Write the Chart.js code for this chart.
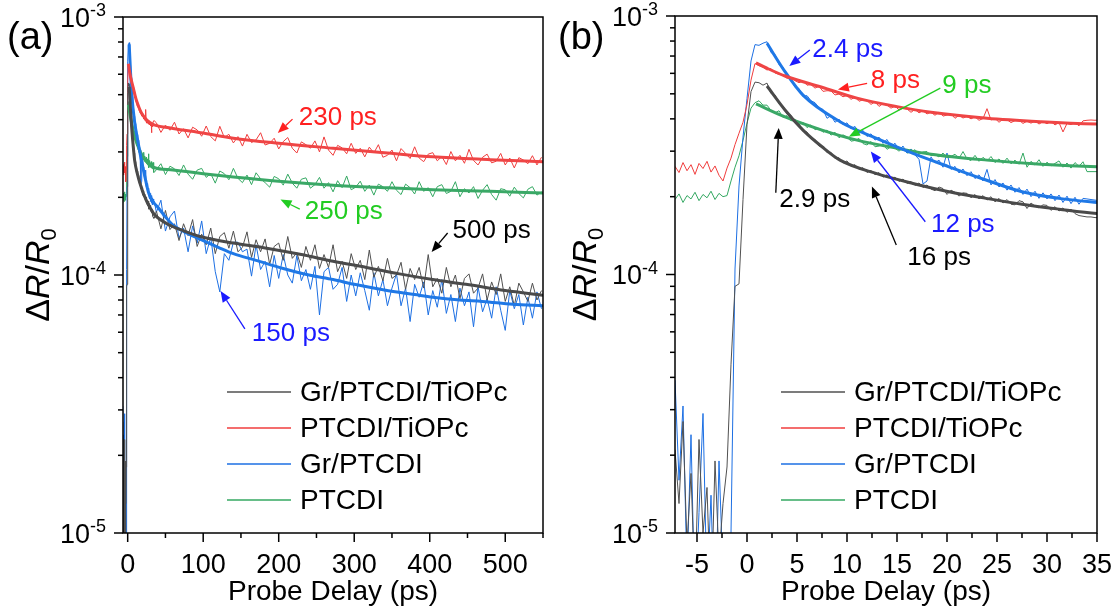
<!DOCTYPE html>
<html>
<head>
<meta charset="utf-8">
<script src="https://cdn.jsdelivr.net/npm/chart.js@4"></script>
<style>
  body { margin: 0; background: #fff; width: 1119px; height: 615px; position: relative; overflow: hidden; }
  canvas { position: absolute; top: 0; }
  #chartA { left: 0; }
  #chartB { left: 550px; }
</style>
</head>
<body>
<canvas id="chartA" width="550" height="615"></canvas>
<canvas id="chartB" width="569" height="615"></canvas>
<script>
// values are dR/R0 in units of 1e-4
const labels = ["Gr/PTCDI/TiOPc", "PTCDI/TiOPc", "Gr/PTCDI", "PTCDI"];

// early window: -7.2 ps .. 35.2 ps, every 0.4 ps
const earlyStart = -7.2, earlyStep = 0.4;
// late window: 38 ps .. 548 ps, every 6 ps
const lateStart = 38, lateStep = 6;

const grayEarly = [0.21, 0.13, 0.27, 0.09, 0.17, 0.06, 0.23, 0.10, 0.15, 0.05, 0.19, 0.08, 0.13, 0.18,
  0.45, 0.90, 0.92, 1.95, 3.80, 5.10, 5.55, 5.52, 5.40,
  5.50, 5.02, 4.95, 4.58, 4.49, 4.18, 4.13, 3.86, 3.82, 3.58,
  3.56, 3.34, 3.33, 3.14, 3.13, 2.96, 2.97, 2.81, 2.83, 2.70,
  2.75, 2.62, 2.66, 2.55, 2.59, 2.48, 2.53, 2.43, 2.48, 2.38,
  2.43, 2.34, 2.38, 2.29, 2.34, 2.25, 2.29, 2.21, 2.26, 2.17,
  2.22, 2.14, 2.11, 2.18, 2.15, 2.04, 2.12, 2.08, 2.01, 2.07,
  2.06, 1.98, 2.04, 1.96, 2.02, 1.94, 2.00, 1.91, 1.97, 1.89,
  1.95, 1.87, 1.86, 1.93, 1.91, 1.80, 1.89, 1.84, 1.81, 1.86,
  1.85, 1.77, 1.83, 1.76, 1.81, 1.74, 1.79, 1.72, 1.69, 1.68,
  1.67, 1.67, 1.66, 1.66];
const redEarly = [2.62, 2.48, 2.71, 2.52, 2.66, 2.44, 2.69, 2.57, 2.74, 2.49, 2.63, 2.42, 2.30,
  2.58, 2.82, 3.18, 3.52, 3.88, 4.55, 5.65, 6.55, 6.42, 6.33,
  6.18, 6.26, 6.02, 5.95, 5.90, 5.74, 5.79, 5.62, 5.52, 5.60,
  5.40, 5.43, 5.26, 5.35, 5.11, 5.14, 5.13, 4.95, 4.99, 4.87,
  4.93, 4.76, 4.85, 4.68, 4.74, 4.71, 4.55, 4.66, 4.47, 4.58,
  4.52, 4.40, 4.48, 4.33, 4.40, 4.37, 4.24, 4.35, 4.22, 4.30,
  4.18, 4.24, 4.13, 4.25, 4.10, 4.14, 4.18, 4.02, 4.13, 4.03,
  4.09, 4.00, 4.07, 3.95, 4.01, 4.38, 3.96, 4.02, 3.88, 3.99,
  3.97, 3.87, 3.94, 3.96, 3.84, 3.92, 3.85, 3.93, 3.82, 3.90,
  3.83, 3.91, 3.79, 3.87, 3.56, 3.84, 3.80, 3.87, 3.76, 3.93,
  3.95, 3.96, 3.95, 3.96];
const blueEarly = [0.39, 0.16, 0.31, 0.07, 0.24, 0.05, 0.12, 0.29, 0.06, 0.14, 0.04, 0.19, 0.07, 0.05,
  0.10, 1.05, 2.20, 3.40, 4.80, 6.70, 7.75, 7.70, 7.85,
  7.95, 7.22, 7.10, 6.48, 6.35, 5.80, 5.72, 5.30, 5.24, 4.88,
  4.92, 4.70, 4.62, 4.41, 4.35, 4.02, 4.12, 3.88, 3.99, 3.80,
  3.86, 3.66, 3.74, 3.52, 3.61, 3.42, 3.50, 3.31, 3.40, 3.22,
  3.33, 3.12, 3.22, 3.03, 3.14, 2.95, 3.06, 2.90, 2.79, 2.24,
  2.30, 2.85, 2.70, 2.77, 2.60, 2.95, 2.55, 2.62, 2.47, 2.56,
  2.41, 2.50, 2.35, 2.43, 2.30, 2.55, 2.22, 2.33, 2.18, 2.26,
  2.12, 2.22, 2.08, 2.17, 2.04, 2.14, 2.00, 2.10, 1.97, 2.07,
  1.96, 2.05, 1.93, 2.03, 1.90, 2.01, 1.88, 1.99, 1.87, 1.97,
  1.96, 1.95, 1.94, 1.93];
const greenEarly = [1.95, 2.05, 1.90, 2.02, 1.96, 2.08, 1.93, 2.04, 1.98, 2.10, 1.95, 2.06, 2.00,
  2.02, 2.30, 2.60, 2.88, 3.30, 3.85, 4.40, 4.62, 4.70, 4.52,
  4.52, 4.31, 4.22, 4.30, 4.05, 4.12, 3.93, 3.99, 3.80, 3.88,
  3.70, 3.79, 3.63, 3.68, 3.55, 3.62, 3.46, 3.55, 3.38, 3.47,
  3.40, 3.28, 3.30, 3.36, 3.21, 3.17, 3.27, 3.12, 3.14, 3.20,
  3.05, 3.12, 3.08, 3.00, 3.09, 2.95, 2.97, 3.04, 2.92, 2.98,
  2.99, 2.88, 2.91, 2.85, 2.95, 2.83, 2.86, 2.92, 2.81, 2.99,
  2.80, 2.76, 2.89, 2.74, 2.84, 2.75, 2.86, 2.71, 2.80, 2.69,
  2.82, 2.68, 2.77, 2.67, 2.95, 2.60, 2.74, 2.65, 2.78, 2.62,
  2.72, 2.63, 2.69, 2.75, 2.60, 2.70, 2.58, 2.71, 2.62, 2.73,
  2.50, 2.50, 2.50, 2.50];

const grayLate = [1.77, 1.51, 1.78, 1.50, 1.58, 1.36, 1.58, 1.42, 1.64, 1.29, 1.44, 1.31, 1.52, 1.21, 1.41, 1.46, 1.27,
  1.48, 1.23, 1.28, 1.47, 1.17, 1.37, 1.23, 1.38, 1.10, 1.29, 1.33, 1.14, 1.41, 1.16, 1.22, 1.07, 1.29, 1.14, 1.31,
  1.06, 1.20, 1.07, 1.31, 1.03, 1.13, 0.97, 1.21, 1.05, 1.14, 0.96, 1.25, 0.98, 1.08, 0.95, 1.16, 0.97, 1.00, 1.12,
  0.88, 1.06, 0.96, 1.07, 0.89, 1.20, 0.90, 0.97, 0.85, 1.07, 0.90, 1.00, 0.81, 0.97, 1.01, 0.85, 0.89, 1.01, 0.80,
  0.94, 0.84, 1.01, 0.79, 0.90, 0.76, 0.93, 0.86, 0.79, 0.93, 0.80, 0.87];
const redLate = [3.89, 3.57, 3.81, 3.64, 3.91, 3.52, 3.69, 3.40, 3.74, 3.65, 3.45, 3.78, 3.44, 3.31, 3.77, 3.41, 3.51,
  3.25, 3.44, 3.16, 3.51, 3.26, 3.34, 3.56, 3.19, 3.24, 3.39, 3.08, 3.29, 3.41, 3.10, 2.97, 3.28, 3.20, 3.10, 3.31,
  3.00, 3.43, 3.05, 2.91, 3.18, 3.11, 2.95, 3.24, 2.96, 3.10, 2.87, 3.13, 2.97, 3.20, 2.86, 2.91, 3.05, 2.77, 3.09,
  2.96, 2.83, 3.14, 2.84, 2.75, 2.94, 2.98, 2.77, 2.88, 2.68, 3.01, 2.77, 2.91, 2.71, 3.07, 2.78, 2.67, 2.86, 2.94,
  2.72, 2.76, 2.96, 2.67, 2.84, 2.60, 2.85, 2.79, 2.70, 2.90, 2.67, 2.86];
const blueLate = [1.75, 1.95, 1.48, 1.68, 1.77, 1.39, 1.52, 1.23, 1.55, 1.33, 1.62, 1.21, 1.40, 1.03, 0.86, 1.21, 1.14,
  1.34, 1.34, 1.23, 1.26, 0.99, 1.31, 1.05, 1.13, 0.90, 1.19, 0.97, 1.20, 1.00, 0.93, 1.19, 0.95, 1.05, 0.88, 1.08,
  0.70, 1.03, 1.07, 0.88, 0.92, 1.07, 0.79, 1.00, 0.83, 1.02, 0.87, 0.73, 1.02, 0.83, 0.96, 0.76, 0.89, 1.01, 0.76,
  0.89, 0.66, 0.92, 0.82, 0.94, 0.70, 0.87, 0.75, 0.96, 0.71, 0.84, 0.66, 0.89, 0.76, 0.86, 0.63, 0.90, 0.72, 0.81,
  0.68, 0.90, 0.73, 0.61, 0.87, 0.74, 0.84, 0.64, 0.82, 0.68, 0.86, 0.74];
const greenLate = [2.56, 2.70, 2.45, 2.64, 2.58, 2.43, 2.67, 2.46, 2.35, 2.55, 2.59, 2.39, 2.47, 2.27, 2.53, 2.47, 2.34,
  2.59, 2.37, 2.28, 2.44, 2.24, 2.49, 2.36, 2.28, 2.19, 2.41, 2.36, 2.23, 2.46, 2.27, 2.17, 2.35, 2.38, 2.17, 2.24,
  2.39, 2.17, 2.28, 2.10, 2.32, 2.18, 2.42, 2.14, 2.19, 2.31, 2.11, 2.23, 2.04, 2.25, 2.20, 2.11, 2.30, 2.13, 2.05,
  2.25, 2.18, 2.06, 2.30, 2.11, 2.18, 2.01, 2.20, 2.24, 2.07, 2.11, 2.30, 2.01, 2.16, 2.08, 2.20, 1.98, 2.13, 2.24,
  2.05, 1.95, 2.16, 2.14, 2.02, 2.19, 2.07, 1.99, 2.15, 2.20, 2.04, 2.10];

// fitted curves (ps, 1e-4)
const grayFitT = [2, 3.8, 5.6, 7.5, 9.3, 12.9, 16.6, 20.2, 23.9, 27.5, 31.2, 35, 52, 75, 96, 140, 184, 230, 272, 316, 360, 404, 448, 500, 550];
const grayFitV = [5.36, 4.33, 3.62, 3.12, 2.77, 2.46, 2.25, 2.09, 1.97, 1.87, 1.79, 1.72, 1.58, 1.48, 1.41, 1.33, 1.27, 1.20, 1.13, 1.07, 1.01, 0.96, 0.92, 0.87, 0.835];
const redFitT = [0.9, 2, 3.8, 7.5, 11, 15, 18.4, 24, 29.4, 35, 60, 100, 140, 200, 272, 340, 404, 480, 550];
const redFitV = [6.59, 6.28, 5.86, 5.30, 4.81, 4.46, 4.24, 4.02, 3.90, 3.82, 3.70, 3.55, 3.39, 3.24, 3.10, 2.98, 2.87, 2.80, 2.75];
const blueFitT = [2, 3.8, 5.6, 9.3, 12.9, 16.6, 20.2, 23.9, 27.5, 31.2, 35, 40, 50, 60, 75, 95, 120, 140, 170, 206, 240, 272, 300, 340, 380, 404, 440, 470, 510, 550];
const blueFitV = [7.84, 6.09, 4.94, 3.90, 3.37, 2.94, 2.61, 2.32, 2.09, 1.97, 1.90, 1.83, 1.68, 1.56, 1.47, 1.38, 1.28, 1.21, 1.14, 1.06, 1.00, 0.96, 0.92, 0.875, 0.84, 0.82, 0.80, 0.79, 0.77, 0.76];
const greenFitT = [0.9, 3.8, 7.5, 11, 15, 18.4, 24, 29.4, 35, 60, 100, 140, 200, 272, 340, 404, 480, 550];
const greenFitV = [4.57, 4.07, 3.62, 3.31, 3.08, 2.92, 2.77, 2.67, 2.61, 2.55, 2.47, 2.40, 2.31, 2.23, 2.18, 2.14, 2.11, 2.08];

const xTicksA = [0, 100, 200, 300, 400, 500];
const xMinorA = [50, 150, 250, 350, 450, 550];
const xTicksB = [-5, 0, 5, 10, 15, 20, 25, 30, 35];
const xMinorB = [-2.5, 2.5, 7.5, 12.5, 17.5, 22.5, 27.5, 32.5];
const yDecades = [-5, -4, -3];

// arrow notes: label, colour, text position, arrow tail, arrow head (ps, dR/R0)
const notesA = [
  ["230 ps", "#ff2020", [226.6, 4.08e-4], [218.3, 4.02e-4], [198.8, 3.55e-4]],
  ["250 ps", "#22cc22", [234.5, 1.75e-4], [227.9, 1.80e-4], [202.4, 1.96e-4]],
  ["500 ps", "#000000", [430.3, 1.48e-4], [423.7, 1.455e-4], [402.5, 1.227e-4]],
  ["150 ps", "#1a1aff", [164.4, 5.91e-5], [155.2, 6.18e-5], [123, 8.67e-5]]
];
const notesB = [
  ["2.4 ps", "#1a1aff", [6.53, 7.39e-4], [6.28, 7.39e-4], [4.23, 6.41e-4]],
  ["8 ps", "#ff2020", [12.38, 5.6e-4], [12.01, 5.49e-4], [9.09, 5.2e-4]],
  ["9 ps", "#22cc22", [19.53, 5.36e-4], [19.33, 5.26e-4], [10.18, 3.41e-4]],
  ["2.9 ps", "#000000", [3.23, 1.94e-4], [2.88, 2.07e-4], [3.17, 3.69e-4]],
  ["12 ps", "#1a1aff", [18.4, 1.55e-4], [17.83, 1.6e-4], [12.38, 2.99e-4]],
  ["16 ps", "#000000", [16.03, 1.16e-4], [14.93, 1.3e-4], [12.49, 2.19e-4]]
];

const rawColors = ["#505050", "#f03c3c", "#1c6fe3", "#34a862"];
const fitColors = ["#4a4a4a", "#ef4545", "#1f78e6", "#3aa866"];

const tEarly = grayEarly.map((v, i) => +(earlyStart + i * earlyStep).toFixed(2));
const tLate = grayLate.map((v, i) => lateStart + i * lateStep);

function pts(ts, vs) {
  return vs.map((v, i) => ({ x: ts[i], y: v * 1e-4 }));
}

const raws = [grayEarly.concat(grayLate), redEarly.concat(redLate), blueEarly.concat(blueLate), greenEarly.concat(greenLate)];
const fits = [[grayFitT, grayFitV], [redFitT, redFitV], [blueFitT, blueFitV], [greenFitT, greenFitV]];
const tAll = tEarly.concat(tLate);

function makeDatasets() {
  const ds = [];
  fits.forEach(function (f, i) {
    ds.push({ label: labels[i] + " fit", data: pts(f[0], f[1]), borderColor: fitColors[i], borderWidth: 3,
      pointRadius: 0, cubicInterpolationMode: "monotone", order: 0 });
  });
  raws.forEach(function (r, i) {
    ds.push({ label: labels[i], data: pts(tAll, r), borderColor: rawColors[i], borderWidth: 1,
      pointRadius: 0, tension: 0, order: 1 });
  });
  return ds;
}

const FONT = '"Liberation Sans", Arial, sans-serif';

function arrow(ctx, x0, y0, x1, y1, color, lw) {
  const ang = Math.atan2(y1 - y0, x1 - x0);
  const L = 11, W = 4.5;
  const bx = x1 - L * Math.cos(ang), by = y1 - L * Math.sin(ang);
  ctx.strokeStyle = color; ctx.fillStyle = color; ctx.lineWidth = lw;
  ctx.beginPath(); ctx.moveTo(x0, y0); ctx.lineTo(bx, by); ctx.stroke();
  ctx.beginPath();
  ctx.moveTo(x1, y1);
  ctx.lineTo(bx + W * Math.sin(ang), by - W * Math.cos(ang));
  ctx.lineTo(bx - W * Math.sin(ang), by + W * Math.cos(ang));
  ctx.closePath(); ctx.fill();
}

const decor = {
  id: "decor",
  afterDraw(chart, args, o) {
    const ctx = chart.ctx, a = chart.chartArea, x = chart.scales.x, y = chart.scales.y;
    ctx.save();
    ctx.strokeStyle = "#000"; ctx.lineWidth = 1.5;
    ctx.strokeRect(a.left, a.top, a.right - a.left, a.bottom - a.top);

    // x ticks and labels
    ctx.fillStyle = "#000"; ctx.font = "27px " + FONT; ctx.textAlign = "center"; ctx.textBaseline = "alphabetic";
    o.xMajor.forEach(function (v) {
      const px = x.getPixelForValue(v);
      ctx.beginPath(); ctx.moveTo(px, a.bottom); ctx.lineTo(px, a.bottom + 9); ctx.stroke();
      ctx.fillText(String(v), px, a.bottom + 40);
    });
    o.xMinor.forEach(function (v) {
      const px = x.getPixelForValue(v);
      ctx.beginPath(); ctx.moveTo(px, a.bottom); ctx.lineTo(px, a.bottom + 5); ctx.stroke();
    });
    ctx.font = "28px " + FONT;
    ctx.fillText("Probe Delay (ps)", (a.left + a.right) / 2, a.bottom + 67);

    // y ticks and labels
    yDecades.forEach(function (d) {
      const py = y.getPixelForValue(Math.pow(10, d));
      ctx.beginPath(); ctx.moveTo(a.left - 9, py); ctx.lineTo(a.left, py); ctx.stroke();
      if (d < -3) {
        for (let m = 2; m <= 9; m++) {
          const pm = y.getPixelForValue(m * Math.pow(10, d));
          ctx.beginPath(); ctx.moveTo(a.left - 5, pm); ctx.lineTo(a.left, pm); ctx.stroke();
        }
      }
      const right = a.left - 17;
      ctx.font = "18px " + FONT;
      const sup = String(d);
      const w2 = ctx.measureText(sup).width;
      ctx.textAlign = "left";
      ctx.fillText(sup, right - w2, py - 1);
      ctx.font = "27px " + FONT;
      ctx.textAlign = "right";
      ctx.fillText("10", right - w2, py + 9.5);
    });

    // y title: ΔR/R0
    ctx.save();
    ctx.translate(o.yTitleX, (a.top + a.bottom) / 2);
    ctx.rotate(-Math.PI / 2);
    const parts = [["Δ", "", 34, 0], ["R", "italic ", 34, 0], ["/", "", 34, 0], ["R", "italic ", 34, 0], ["0", "", 22, 7]];
    let total = 0;
    parts.forEach(function (p) { ctx.font = p[1] + p[2] + "px " + FONT; total += ctx.measureText(p[0]).width; });
    let cx = -total / 2;
    ctx.textAlign = "left";
    parts.forEach(function (p) {
      ctx.font = p[1] + p[2] + "px " + FONT;
      ctx.fillText(p[0], cx, p[3]);
      cx += ctx.measureText(p[0]).width;
    });
    ctx.restore();

    // panel letter
    ctx.font = "38px " + FONT; ctx.textAlign = "left";
    ctx.fillText(o.panel, o.panelX, 49);

    // legend
    ctx.font = "28px " + FONT; ctx.textBaseline = "middle";
    labels.forEach(function (lab, i) {
      const ry = o.legendY + i * 36;
      ctx.strokeStyle = rawColors[i]; ctx.lineWidth = 1.5;
      ctx.beginPath(); ctx.moveTo(o.legendX, ry); ctx.lineTo(o.legendX + 64, ry); ctx.stroke();
      ctx.fillStyle = "#000";
      ctx.fillText(lab, o.legendX + 73, ry + 1);
    });

    // arrow notes
    ctx.font = "26px " + FONT;
    o.notes.forEach(function (n) {
      ctx.fillStyle = n[1];
      ctx.fillText(n[0], x.getPixelForValue(n[2][0]), y.getPixelForValue(n[2][1]));
      arrow(ctx, x.getPixelForValue(n[3][0]), y.getPixelForValue(n[3][1]),
        x.getPixelForValue(n[4][0]), y.getPixelForValue(n[4][1]), n[1], 1.3);
    });
    ctx.restore();
  }
};

function makeChart(id, c) {
  return new Chart(document.getElementById(id), {
    type: "line",
    data: { datasets: makeDatasets() },
    options: {
      responsive: false,
      animation: false,
      devicePixelRatio: 1,
      layout: { padding: { left: 0, top: c.top, right: c.right, bottom: 0 }, autoPadding: false },
      plugins: {
        legend: { display: false },
        tooltip: { enabled: false },
        decor: c.decor
      },
      scales: {
        x: {
          type: "linear", min: c.xmin, max: c.xmax,
          grid: { display: false }, border: { display: false }, ticks: { display: false },
          afterFit: function (s) { s.height = 82; }
        },
        y: {
          type: "logarithmic", min: 1e-5, max: 1e-3,
          grid: { display: false }, border: { display: false }, ticks: { display: false },
          afterFit: function (s) { s.width = c.yWidth; }
        }
      }
    },
    plugins: [decor]
  });
}

makeChart("chartA", {
  top: 17, right: 7, yWidth: 123, xmin: -6.2, xmax: 550,
  decor: { xMajor: xTicksA, xMinor: xMinorA, panel: "(a)", panelX: 7, yTitleX: 49,
    legendX: 227, legendY: 392, notes: notesA }
});
makeChart("chartB", {
  top: 16, right: 22, yWidth: 125, xmin: -7.2, xmax: 35,
  decor: { xMajor: xTicksB, xMinor: xMinorB, panel: "(b)", panelX: 8, yTitleX: 46,
    legendX: 231, legendY: 392, notes: notesB }
});
</script>
</body>
</html>
